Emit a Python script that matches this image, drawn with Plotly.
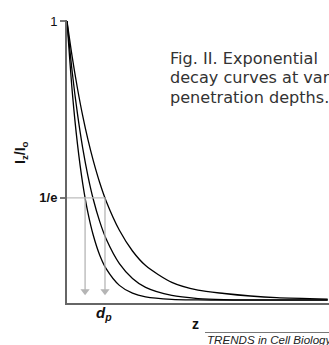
import plotly.graph_objects as go

# Data (z in arbitrary units, Iz/Io relative intensity)
z_vals = [0, 0.2, 0.4, 0.6, 0.8, 1.0, 1.25, 1.5, 2.0, 2.5, 3.0, 4.0, 5.0, 6.0, 7.0, 8.0, 9.95]
curve_short = [1.0, 0.748, 0.560, 0.419, 0.314, 0.235, 0.163, 0.114, 0.055, 0.027, 0.014, 0.005, 0.003, 0.002, 0.002, 0.002, 0.002]
curve_mid = [1.0, 0.817, 0.668, 0.546, 0.446, 0.364, 0.283, 0.220, 0.133, 0.080, 0.048, 0.019, 0.008, 0.004, 0.003, 0.003, 0.003]
curve_long = [1.0, 0.871, 0.759, 0.661, 0.576, 0.502, 0.422, 0.355, 0.252, 0.178, 0.126, 0.066, 0.038, 0.026, 0.017, 0.011, 0.006]
penetration_depths = [0.69, 1.45]  # drop lines (first and last curve)
inv_e = 0.3679
arrow_tip = 0.022
y_tickvals = [1, inv_e]
y_ticktext = ["1", "<b>1/e</b>"]

W, H = 329, 345
L, R, T, B = 67, 0, 20, 42
pw, ph = W - L - R, H - T - B


def px(xp):
    return (xp - L) / pw


def py(yp):
    return (H - B - yp) / ph


fig = go.Figure()
for ys in (curve_short, curve_mid, curve_long):
    fig.add_trace(go.Scatter(x=z_vals, y=ys, mode="lines",
                             line=dict(color="black", width=1.3, shape="spline", smoothing=0.8),
                             hoverinfo="skip", showlegend=False, cliponaxis=False))

# horizontal 1/e guide
fig.add_shape(type="line", x0=0, x1=max(penetration_depths), y0=inv_e, y1=inv_e,
              xref="x", yref="y", line=dict(color="#bdbdbd", width=1.3))

# drop arrows (line + arrowhead marker)
for d in penetration_depths:
    fig.add_shape(type="line", x0=d, x1=d, y0=inv_e, y1=arrow_tip + 0.01,
                  xref="x", yref="y", line=dict(color="#b5b5b5", width=1.3))
fig.add_trace(go.Scatter(x=penetration_depths, y=[arrow_tip + 0.012] * len(penetration_depths),
                         mode="markers", marker=dict(symbol="triangle-down", size=8,
                                                     color="#b5b5b5", line=dict(width=0)),
                         hoverinfo="skip", showlegend=False, cliponaxis=False))

annos = [
    dict(x=px(21), y=py(153), text="<b>I<sub>z</sub>/I<sub>o</sub></b>", textangle=-90,
         xanchor="center", yanchor="middle",
         font=dict(size=14, family="Liberation Sans, Arial", color="#111")),
    dict(x=px(104), y=py(313), text="<b><i>d<sub>p</sub></i></b>",
         xanchor="center", yanchor="middle",
         font=dict(size=15, family="Liberation Sans, Arial", color="#111")),
    dict(x=px(195), y=py(324), text="<b>z</b>",
         xanchor="center", yanchor="middle",
         font=dict(size=14, family="Liberation Sans, Arial", color="#111")),
    dict(x=px(205), y=py(339), text="<i>TRENDS in Cell Biology</i>",
         xanchor="left", yanchor="middle",
         font=dict(size=11.6, family="Liberation Sans, Arial", color="#222")),
]
cap_lines = ["Fig. II. Exponential", "decay curves at various", "penetration depths."]
for i, s in enumerate(cap_lines):
    annos.append(dict(x=px(168), y=py(58.5 + 19.3 * i), text=s, xanchor="left", yanchor="middle",
                      font=dict(size=16.1, family="DejaVu Sans", color="#333")))
for a in annos:
    fig.add_annotation(xref="paper", yref="paper", showarrow=False, **a)

fig.add_shape(type="line", xref="paper", yref="paper", x0=px(205), x1=px(330),
              y0=py(332.5), y1=py(332.5), line=dict(color="#777", width=1))

fig.update_layout(
    width=W, height=H, margin=dict(l=L, r=R, t=T, b=B, autoexpand=False), autosize=False,
    paper_bgcolor="white", plot_bgcolor="white",
    xaxis=dict(range=[0, 10], showline=True, linecolor="#666", linewidth=2, automargin=False,
               showgrid=False, zeroline=False, showticklabels=False, ticks=""),
    yaxis=dict(range=[-0.008, 1.004], showline=True, linecolor="#666", linewidth=2, automargin=False,
               showgrid=False, zeroline=False, tickvals=y_tickvals, ticktext=y_ticktext,
               ticks="outside", ticklen=5, tickwidth=1.5, tickcolor="#777",
               tickfont=dict(size=13, family="Liberation Sans, Arial", color="#111")),
)
fig.write_html("out.html", config={"displayModeBar": False},
               post_script="document.body.style.margin='0px';")
